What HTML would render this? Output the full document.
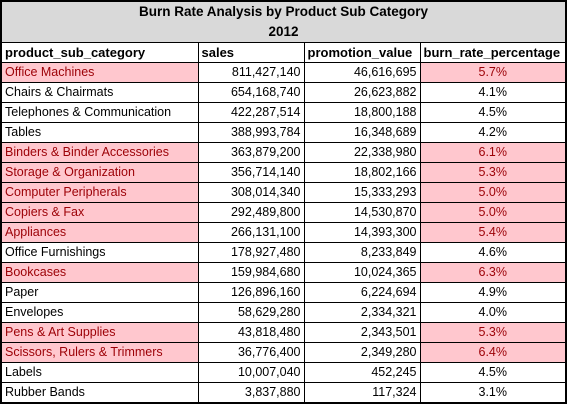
<!DOCTYPE html>
<html><head><meta charset="utf-8"><style>
body{margin:0;background:#fff;width:570px;height:405px;overflow:hidden;font-family:"Liberation Sans",sans-serif;}
table{position:absolute;left:0;top:0;border-collapse:collapse;table-layout:fixed;border:2px solid #000;}
td{border:1px solid #000;height:19px;padding:0 3px;font-size:12.5px;white-space:nowrap;overflow:hidden;line-height:19px;}
.t{background:#d9d9d9;font-weight:bold;font-size:13.5px;text-align:center;border:none;height:20px;line-height:20px;}
.h td{font-weight:bold;font-size:13px;}
.n{text-align:right;}
.p{text-align:center;}
.hl{background:#ffc7ce;color:#9c0006;}
</style></head><body>
<table>
<colgroup><col style="width:197px"><col style="width:106px"><col style="width:116px"><col style="width:146px"></colgroup>
<tr><td class="t" colspan="4">Burn Rate Analysis by Product Sub Category</td></tr>
<tr><td class="t" colspan="4">2012</td></tr>
<tr class="h"><td>product_sub_category</td><td>sales</td><td>promotion_value</td><td>burn_rate_percentage</td></tr>
<tbody id="body"></tbody>
</table>
<script>
const cats=["Office Machines","Chairs & Chairmats","Telephones & Communication","Tables","Binders & Binder Accessories","Storage & Organization","Computer Peripherals","Copiers & Fax","Appliances","Office Furnishings","Bookcases","Paper","Envelopes","Pens & Art Supplies","Scissors, Rulers & Trimmers","Labels","Rubber Bands"];
const sales=["811,427,140","654,168,740","422,287,514","388,993,784","363,879,200","356,714,140","308,014,340","292,489,800","266,131,100","178,927,480","159,984,680","126,896,160","58,629,280","43,818,480","36,776,400","10,007,040","3,837,880"];
const promo=["46,616,695","26,623,882","18,800,188","16,348,689","22,338,980","18,802,166","15,333,293","14,530,870","14,393,300","8,233,849","10,024,365","6,224,694","2,334,321","2,343,501","2,349,280","452,245","117,324"];
const rates=[5.7,4.1,4.5,4.2,6.1,5.3,5.0,5.0,5.4,4.6,6.3,4.9,4.0,5.3,6.4,4.5,3.1];
const tb=document.getElementById('body');
cats.forEach((c,i)=>{
 const hl=rates[i]>=5;
 const tr=document.createElement('tr');
 
 
 const vals=[c,sales[i],promo[i],rates[i].toFixed(1)+'%'];
 const cls=['', 'n','n','p'];
 vals.forEach((v,j)=>{
  const td=document.createElement('td');
  
  
  td.textContent=v;
  td.className=cls[j]+((hl&&(j==0||j==3))?' hl':'');
  tr.appendChild(td);
 });
 tb.appendChild(tr);
});
</script>
</body></html>
